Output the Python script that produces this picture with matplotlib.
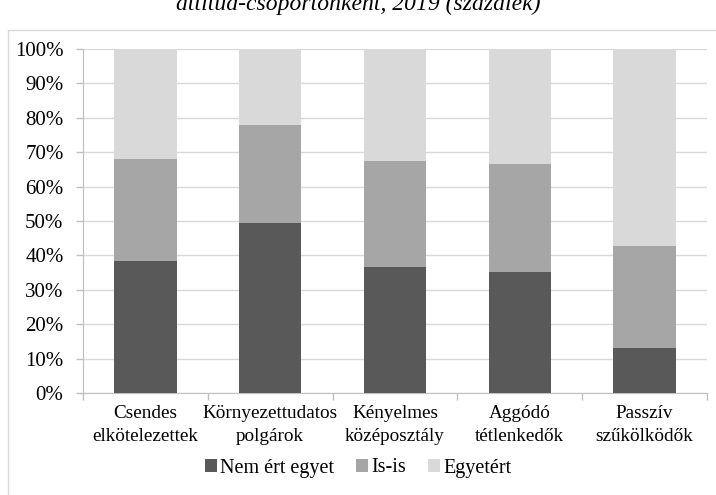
import numpy as np
import matplotlib.pyplot as plt
from matplotlib.patches import Rectangle
from matplotlib.ticker import FixedLocator, PercentFormatter

plt.rcParams["font.family"] = ["Liberation Serif", "DejaVu Serif"]

categories = [
    "Csendes\nelkötelezettek",
    "Környezettudatos\npolgárok",
    "Kényelmes\nközéposztály",
    "Aggódó\ntétlenkedők",
    "Passzív\nszűkölködők",
]
nem_ert_egyet = [38.5, 49.3, 36.6, 35.1, 13.0]
is_is = [29.5, 28.6, 30.8, 31.6, 29.6]
egyetert = [100 - a - b for a, b in zip(nem_ert_egyet, is_is)]

series = [
    ("Nem ért egyet", nem_ert_egyet, "#595959"),
    ("Is-is", is_is, "#a6a6a6"),
    ("Egyetért", egyetert, "#d9d9d9"),
]

W, H = 716, 495
fig = plt.figure(figsize=(W / 100, H / 100), dpi=100)

# outer chart frame (runs past the right and bottom edges of the image)
fig.patches.append(Rectangle((8 / W, -0.1), 1.2, (H - 30) / H + 0.1,
                             transform=fig.transFigure, fill=False,
                             edgecolor="#d9d9d9", linewidth=1.0))

# title, partly cut off at the top like the source
fig.text(0.5, 1 - 10 / H, "attitűd-csoportonként, 2019 (százalék)",
         ha="center", va="baseline", fontsize=17, style="italic")

ax = fig.add_axes([83 / W, 1 - 393 / H, (707 - 83) / W, (393 - 49) / H])

x = np.arange(len(categories))
bottom = np.zeros(len(categories))
for label, vals, color in series:
    ax.bar(x, vals, width=0.5, bottom=bottom, color=color, label=label, zorder=3)
    bottom += np.array(vals)

ax.set_xlim(-0.5, len(categories) - 0.5)
ax.set_ylim(0, 100)
ax.yaxis.set_major_locator(FixedLocator(np.arange(0, 101, 10)))
ax.yaxis.set_major_formatter(PercentFormatter(decimals=0))
ax.grid(axis="y", color="#d9d9d9", linewidth=1.0, zorder=0)

ax.set_xticks(x)
ax.set_xticklabels(categories, fontsize=13.8, linespacing=1.45)
ax.set_xticks(np.arange(-0.5, len(categories)), minor=True)
ax.tick_params(axis="x", which="major", length=0, pad=9)
ax.tick_params(axis="x", which="minor", length=5, color="#bfbfbf", width=1)
ax.tick_params(axis="y", length=5, color="#bfbfbf", width=1, labelsize=15, pad=9)

for side in ["top", "right"]:
    ax.spines[side].set_visible(False)
for side in ["left", "bottom"]:
    ax.spines[side].set_color("#bfbfbf")

handles, labels = ax.get_legend_handles_labels()
fig.legend(handles, labels, loc="center", bbox_to_anchor=(0.5, 1 - 468 / H),
           ncol=3, frameon=False, fontsize=14.5, handlelength=0.6, handleheight=0.6,
           handletextpad=0.15, columnspacing=1.1)

fig.savefig("out.png", dpi=100)
